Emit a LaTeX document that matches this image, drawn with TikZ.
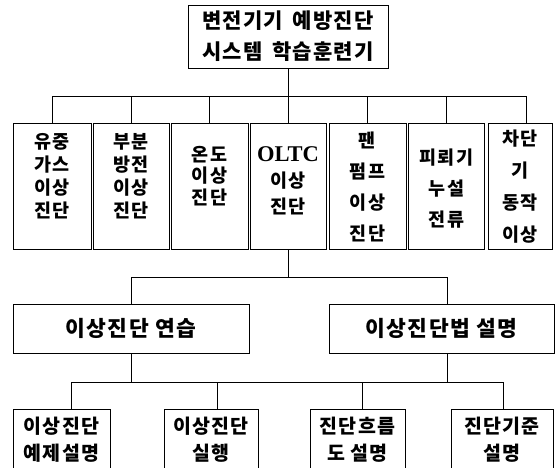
\documentclass[tikz,border=0pt]{standalone}
\usepackage{fontspec}
\setmainfont{Noto Sans CJK KR}[LetterSpace=6]
\newfontfamily\latb{Liberation Serif}
\tikzset{
  box/.style={draw, line width=0.8pt, inner sep=0pt, align=center},
  rowbox/.style={box, minimum height=126pt},
  botbox/.style={box, minimum height=62pt, font=\bfseries\fontsize{19.5}{27}\selectfont},
  midbox/.style={box, minimum height=49pt, font=\bfseries\fontsize{21.5}{25}\selectfont},
  rowtxt/.style={inner sep=0pt, align=center},
  conn/.style={draw, line width=0.7pt},
}
\begin{document}
\begin{tikzpicture}[x=1pt, y=-1pt]
\useasboundingbox (0,0) rectangle (557,467);
\clip (0,0) rectangle (557,467);
\fill[white] (0,0) rectangle (557,467);

% top box
\node[box, minimum width=200pt, minimum height=63pt, font=\bfseries\fontsize{21}{31}\selectfont] (top) at (288,36.5) {변전기기\hspace{0.45em}예방진단\\시스템\hspace{0.45em}학습훈련기};

% row boxes
\node[rowbox, minimum width=78pt] (b1) at (52,186) {};
\node[rowbox, minimum width=76pt] (b2) at (131,186) {};
\node[rowbox, minimum width=77pt] (b3) at (209.5,186) {};
\node[rowbox, minimum width=76pt] (b4) at (288,186) {};
\node[rowbox, minimum width=77pt] (b5) at (367.5,186) {};
\node[rowbox, minimum width=76pt] (b6) at (446.5,186) {};
\node[rowbox, minimum width=64pt] (b7) at (520,186) {};

\node[rowtxt, font=\bfseries\fontsize{18.5}{23}\selectfont] (t1) at (52,176) {유중\\가스\\이상\\진단};
\node[rowtxt, font=\bfseries\fontsize{18.5}{23}\selectfont] (t2) at (131,176) {부분\\방전\\이상\\진단};
\node[rowtxt, font=\bfseries\fontsize{18.5}{21.5}\selectfont] (t3) at (209.5,176) {온도\\이상\\진단};
\node[rowtxt, font=\bfseries\fontsize{18.5}{26}\selectfont] (t4) at (288,181) {{\latb\fontsize{22.5}{26}\selectfont OLTC}\\이상\\진단};
\node[rowtxt, font=\bfseries\fontsize{18.5}{31}\selectfont] (t5) at (367.5,186.5) {팬\\펌프\\이상\\진단};
\node[rowtxt, font=\bfseries\fontsize{18.5}{31}\selectfont] (t6) at (446.5,188.5) {피뢰기\\누설\\전류};
\node[rowtxt, font=\bfseries\fontsize{18.5}{32}\selectfont] (t7) at (520,186.5) {차단\\기\\동작\\이상};

% connectors top
\coordinate (busA) at (52,96);
\coordinate (busB) at (526,96);
\draw[conn] (top.south) -- (top.south |- busA);
\draw[conn] (busA) -- (busB);
\draw[conn] (busA) -- (b1.north);
\draw[conn] (b2.north |- busA) -- (b2.north);
\draw[conn] (b3.north |- busA) -- (b3.north);
\draw[conn] (b4.north |- busA) -- (b4.north);
\draw[conn] (b5.north |- busA) -- (b5.north);
\draw[conn] (b6.north |- busA) -- (b6.north);
\draw[conn] (busB) -- (busB |- b7.north);

% middle boxes
\node[midbox, minimum width=236pt] (ml) at (131,328.5) {이상진단\hspace{0.3em}연습};
\node[midbox, minimum width=225pt] (mr) at (441.5,328.5) {이상진단법\hspace{0.3em}설명};

\coordinate (busM1) at (131,277);
\coordinate (busM2) at (447,277);
\draw[conn] (b4.south) -- (b4.south |- busM1);
\draw[conn] (busM1) -- (busM2);
\draw[conn] (busM1) -- (ml.north);
\draw[conn] (busM2) -- (busM2 |- mr.north);

% bottom boxes
\node[botbox, minimum width=97pt] (c1) at (61.5,440) {이상진단\\예제설명};
\node[botbox, minimum width=94pt] (c2) at (211,440) {이상진단\\실행};
\node[botbox, minimum width=95pt] (c3) at (357.5,440) {진단흐름\\도 설명};
\node[botbox, minimum width=102pt] (c4) at (502,440) {진단기준\\설명};

\coordinate (busL1) at (71,382);
\coordinate (busL2) at (503,382);
\coordinate (j2) at (217,382);
\coordinate (j3) at (362,382);
\draw[conn] (ml.south) -- (ml.south |- busL1);
\draw[conn] (busM2 |- mr.south) -- (busM2 |- busL1);
\draw[conn] (busL1) -- (busL2);
\draw[conn] (busL1) -- (busL1 |- c1.north);
\draw[conn] (j2) -- (j2 |- c2.north);
\draw[conn] (j3) -- (j3 |- c3.north);
\draw[conn] (busL2) -- (busL2 |- c4.north);
\end{tikzpicture}
\end{document}
